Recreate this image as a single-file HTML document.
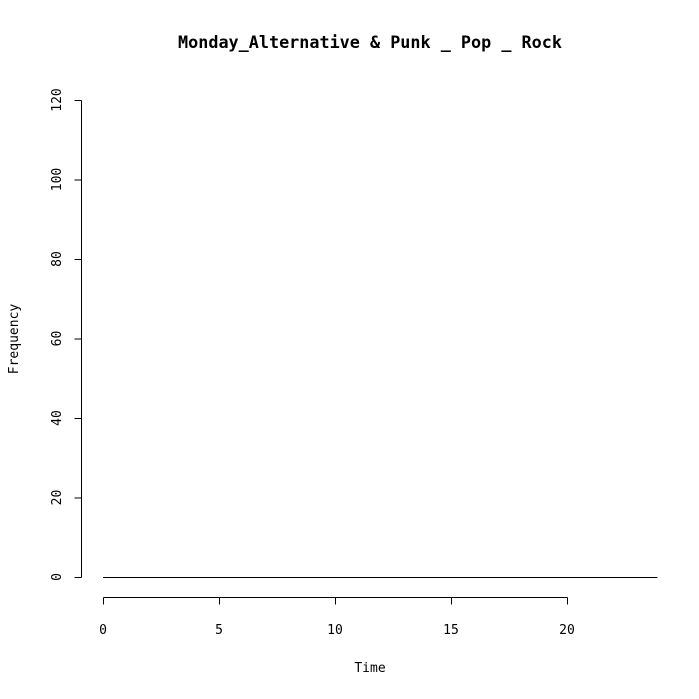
<!DOCTYPE html>
<html><head><meta charset="utf-8"><style>
body{margin:0;background:#fff}
svg{display:block;font-family:"DejaVu Sans Mono","Liberation Mono",monospace}
</style></head><body>
<svg id="c" width="699" height="699" viewBox="0 0 699 699">
<text x="370" y="48" font-size="16.8" font-weight="bold" text-anchor="middle">Monday_Alternative &amp; Punk _ Pop _ Rock</text>
<text x="370" y="672" font-size="13" text-anchor="middle">Time</text>
<text x="18" y="339" font-size="13" text-anchor="middle" transform="rotate(-90 18 339)">Frequency</text>
<g id="ax" stroke="#000" fill="none"></g>
<g id="lbl" font-size="13"></g>
<polyline id="ln" fill="none" stroke="#000" stroke-width="1"/>
</svg>
<script>
const times=[0,1,2,3,4,5,6,7,8,9,10,11,12,13,14,15,16,17,18,19,20,21,22,23,23.9];
const freq=[0,0,0,0,0,0,0,0,0,0,0,0,0,0,0,0,0,0,0,0,0,0,0,0,0];
const xTicks=[0,5,10,15,20];
const yTicks=[0,20,40,60,80,100,120];
const X=v=>103+v*23.2, Y=v=>577-v*3.975;
const ns="http://www.w3.org/2000/svg";
const ax=document.getElementById('ax'),lbl=document.getElementById('lbl');
function ln(x1,y1,x2,y2,n){const l=document.createElementNS(ns,'line');
l.setAttribute('x1',x1);l.setAttribute('y1',y1);l.setAttribute('x2',x2);l.setAttribute('y2',y2);


ax.appendChild(l);}
function tx(x,y,s,rot,n){const t=document.createElementNS(ns,'text');
t.setAttribute('x',x);t.setAttribute('y',y);t.setAttribute('text-anchor','middle');
if(rot)t.setAttribute('transform','rotate(-90 '+x+' '+y+')');t.textContent=s;


lbl.appendChild(t);}
ln(X(xTicks[0])+.5,597.5,X(xTicks[xTicks.length-1])+.5,597.5,'x-axis-line');
xTicks.forEach(v=>{ln(X(v)+.5,597.5,X(v)+.5,604.5,'x-tick');tx(X(v),634,String(v),false,'x-tick-label');});
ln(81.5,Y(yTicks[0])+.5,81.5,Y(yTicks[yTicks.length-1])+.5,'y-axis-line');
yTicks.forEach(v=>{ln(74.5,Y(v)+.5,81.5,Y(v)+.5,'y-tick');tx(61,Y(v),String(v),true,'y-tick-label');});
document.getElementById('ln').setAttribute('points',times.map((t,i)=>X(t)+','+(Y(freq[i])+.5)).join(' '));
</script>
</body></html>
